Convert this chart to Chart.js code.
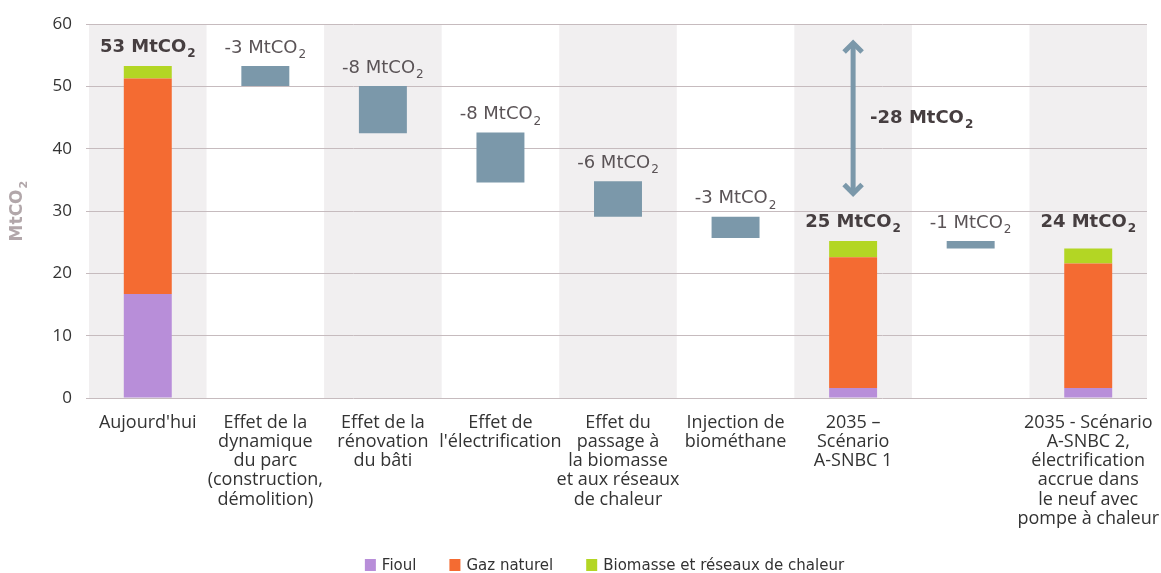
<!DOCTYPE html>
<html>
<head>
<meta charset="utf-8">
<script src="https://cdn.jsdelivr.net/npm/chart.js@4.4.1/dist/chart.umd.min.js"></script>
<style>
  html, body { margin: 0; padding: 0; background: #ffffff; }
  #wrap { width: 1161px; height: 573px; }
</style>
</head>
<body>
<div id="wrap"><canvas id="chart"></canvas></div>
<script>
// Catégories (libellés sur plusieurs lignes)
const categories = [
  ["Aujourd'hui"],
  ["Effet de la", "dynamique", "du parc", "(construction,", "démolition)"],
  ["Effet de la", "rénovation", "du bâti"],
  ["Effet de", "l'électrification"],
  ["Effet du", "passage à", "la biomasse", "et aux réseaux", "de chaleur"],
  ["Injection de", "biométhane"],
  ["2035 –", "Scénario", "A-SNBC 1"],
  [""],
  ["2035 - Scénario", "A-SNBC 2,", "électrification", "accrue dans", "le neuf avec", "pompe à chaleur"]
];

// Émissions par énergie (MtCO2) pour les barres empilées
const fioul      = [16.7, null, null, null, null, null, 1.6,  null, 1.6];
const gazNaturel = [34.6, null, null, null, null, null, 21.0, null, 20.0];
const biomasse   = [2.0,  null, null, null, null, null, 2.6,  null, 2.4];

// Variations (barres flottantes) : bas et haut de chaque étape
const variationBas  = [null, 50.1, 42.5, 34.6, 29.1, 25.7, null, 24.0, null];
const variationHaut = [null, 53.3, 50.1, 42.6, 34.8, 29.1, null, 25.2, null];

// Graduations de l'axe vertical
const yTicks = [0, 10, 20, 30, 40, 50, 60];

const COLORS = {
  fioul: '#b88ed9',
  gaz: '#f46b32',
  bio: '#b3d624',
  variation: '#7b98aa',
  band: '#f1eff0',
  grid: '#c6bbbe'
};

// Segments empilés construits en intervalles [début, fin]
function stackRanges(layers) {
  const out = layers.map(() => []);
  categories.forEach((_, i) => {
    let base = 0;
    layers.forEach((arr, k) => {
      const v = arr[i];
      if (v === null) { out[k].push(null); return; }
      out[k].push([base, base + v]);
      base += v;
    });
  });
  return out;
}
const [fioulRanges, gazRanges, bioRanges] = stackRanges([fioul, gazNaturel, biomasse]);
const variationRanges = categories.map((_, i) =>
  variationBas[i] === null ? null : [variationBas[i], variationHaut[i]]);

function totalAt(i) {
  if (fioul[i] === null) return null;
  return fioul[i] + gazNaturel[i] + biomasse[i];
}

// Texte « ... MtCO2 » avec le 2 en indice
function drawCO2Text(ctx, prefix, x, y, bold, align, size) {
  const weight = bold ? 'bold ' : '';
  const s = size || 18;
  const sub = Math.round(s * 0.67);
  ctx.font = weight + s + 'px "DejaVu Sans"';
  const w1 = ctx.measureText(prefix).width;
  ctx.font = weight + sub + 'px "DejaVu Sans"';
  const w2 = ctx.measureText('2').width;
  const total = w1 + 1 + w2;
  const x0 = align === 'left' ? x : x - total / 2;
  ctx.textAlign = 'left';
  ctx.textBaseline = 'middle';
  ctx.font = weight + s + 'px "DejaVu Sans"';
  ctx.fillText(prefix, x0, y);
  ctx.font = weight + sub + 'px "DejaVu Sans"';
  ctx.fillText('2', x0 + w1 + 1, y + s * 0.39);
}

// Bandes grises alternées derrière la grille
const bandsPlugin = {
  id: 'bands',
  beforeDraw(chart) {
    const { ctx, chartArea: { top, bottom }, scales: { x } } = chart;
    const w = (x.right - x.left) / categories.length;
    ctx.save();
    ctx.fillStyle = COLORS.band;
    categories.forEach((_, i) => {
      if (i % 2 === 0) ctx.fillRect(x.left + i * w, top, w, bottom - top);
    });
    ctx.restore();
  }
};

// Étiquettes de valeurs, flèche d'écart, titre d'axe et légende
const annotationsPlugin = {
  id: 'annotations',
  afterDatasetsDraw(chart) {
    const { ctx, scales: { x, y } } = chart;
    ctx.save();
    let lastTotalLabelY = null;
    categories.forEach((_, i) => {
      const cx = x.getPixelForValue(i);
      const tot = totalAt(i);
      if (tot !== null) {
        let ly = y.getPixelForValue(tot) - 19;
        if (lastTotalLabelY !== null && i === categories.length - 1) ly = Math.min(ly, lastTotalLabelY);
        if (i > 0) lastTotalLabelY = ly;
        ctx.fillStyle = '#463e40';
        drawCO2Text(ctx, Math.round(tot) + ' MtCO', cx, ly, true);
      } else if (variationHaut[i] !== null) {
        const delta = Math.round(variationHaut[i] - variationBas[i]);
        const ly = y.getPixelForValue(variationHaut[i]) - 18;
        ctx.fillStyle = '#5a5356';
        drawCO2Text(ctx, '-' + delta + ' MtCO', cx, ly, false);
      }
    });

    // Flèche double entre aujourd'hui et 2035
    const ax = x.getPixelForValue(6);
    const yTop = y.getPixelForValue(57.3);
    const yBot = y.getPixelForValue(32.5);
    ctx.strokeStyle = COLORS.variation;
    ctx.lineWidth = 5;
    ctx.lineCap = 'butt';
    ctx.lineJoin = 'miter';
    ctx.beginPath();
    ctx.moveTo(ax, yTop + 3);
    ctx.lineTo(ax, yBot - 3);
    ctx.stroke();
    ctx.beginPath();
    ctx.moveTo(ax - 9, yTop + 11);
    ctx.lineTo(ax, yTop + 2);
    ctx.lineTo(ax + 9, yTop + 11);
    ctx.stroke();
    ctx.beginPath();
    ctx.moveTo(ax - 9, yBot - 11);
    ctx.lineTo(ax, yBot - 2);
    ctx.lineTo(ax + 9, yBot - 11);
    ctx.stroke();
    const ecart = Math.round(totalAt(0) - totalAt(6));
    ctx.fillStyle = '#463e40';
    drawCO2Text(ctx, '-' + ecart + ' MtCO', ax + 17, (yTop + yBot) / 2, true, 'left');
    ctx.restore();
  },
  afterDraw(chart) {
    const { ctx, chartArea: { top, bottom } } = chart;

    // Titre de l'axe vertical
    ctx.save();
    ctx.translate(18, (top + bottom) / 2);
    ctx.rotate(-Math.PI / 2);
    ctx.fillStyle = '#b2a7aa';
    drawCO2Text(ctx, 'MtCO', 0, 0, true, 'center', 17);
    ctx.restore();

    // Légende des énergies
    const items = chart.data.datasets.filter(d => d.inLegend);
    ctx.save();
    ctx.font = '15px "DejaVu Sans"';
    const box = 11, gapText = 6, gapItem = 33;
    const widths = items.map(d => box + gapText + ctx.measureText(d.label).width);
    const totalW = widths.reduce((a, b) => a + b, 0) + gapItem * (items.length - 1);
    let lx = chart.width / 2 + 24 - totalW / 2;
    const ly = 565;
    items.forEach((d, k) => {
      ctx.fillStyle = d.backgroundColor;
      ctx.fillRect(lx, ly - 6, box, 12);
      ctx.fillStyle = '#333333';
      ctx.textAlign = 'left';
      ctx.textBaseline = 'middle';
      ctx.fillText(d.label, lx + box + gapText, ly + 1);
      lx += widths[k] + gapItem;
    });
    ctx.restore();
  }
};

const barCommon = { grouped: false, categoryPercentage: 1, barPercentage: 0.408, borderWidth: 0 };

new Chart(document.getElementById('chart'), {
  type: 'bar',
  data: {
    labels: categories,
    datasets: [
      { label: 'Fioul', data: fioulRanges, backgroundColor: COLORS.fioul, inLegend: true, ...barCommon },
      { label: 'Gaz naturel', data: gazRanges, backgroundColor: COLORS.gaz, inLegend: true, ...barCommon },
      { label: 'Biomasse et réseaux de chaleur', data: bioRanges, backgroundColor: COLORS.bio, inLegend: true, ...barCommon },
      { label: 'Variation', data: variationRanges, backgroundColor: COLORS.variation, inLegend: false, ...barCommon }
    ]
  },
  options: {
    responsive: true,
    maintainAspectRatio: false,
    animation: false,
    layout: { padding: { top: 23, right: 14, left: 0, bottom: 0 } },
    plugins: {
      legend: { display: false },
      tooltip: { enabled: false }
    },
    scales: {
      x: {
        grid: { display: false, drawTicks: false },
        border: { display: false },
        ticks: {
          autoSkip: false,
          maxRotation: 0,
          minRotation: 0,
          padding: 15,
          color: '#333333',
          font: { family: '"Open Sans"', size: 18, lineHeight: '19.2px' }
        },
        afterFit(scale) {
          scale.height = 175;
          scale.paddingLeft = 0;
          scale.paddingRight = 0;
        }
      },
      y: {
        min: 0,
        max: 60,
        afterBuildTicks(scale) { scale.ticks = yTicks.map(v => ({ value: v })); },
        grid: { color: COLORS.grid, lineWidth: 1, drawTicks: true, tickLength: 3 },
        border: { display: false },
        ticks: {
          padding: 14,
          color: '#333333',
          font: { family: '"Open Sans"', size: 17 }
        },
        afterFit(scale) { scale.width = 89; }
      }
    }
  },
  plugins: [bandsPlugin, annotationsPlugin]
});
</script>
</body>
</html>
